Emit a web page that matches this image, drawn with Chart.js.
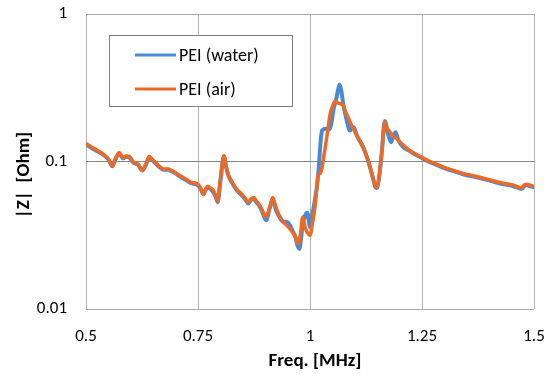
<!DOCTYPE html>
<html>
<head>
<meta charset="utf-8">
<script src="https://cdn.jsdelivr.net/npm/chart.js@4"></script>
<style>
  html, body { margin: 0; padding: 0; background: #fff; }
  #wrap { width: 557px; height: 374px; }
</style>
</head>
<body>
<div id="wrap"><canvas id="chartZ"></canvas></div>
<script>
// frequency [MHz] and |Z| [Ohm]
const freqAir = [0.500, 0.515, 0.531, 0.542, 0.550, 0.559, 0.566, 0.574, 0.583, 0.590, 0.597, 0.606, 0.616, 0.626, 0.633, 0.641, 0.647, 0.654, 0.663, 0.673, 0.683, 0.691, 0.700, 0.710, 0.723, 0.736, 0.747, 0.755, 0.762, 0.767, 0.772, 0.778, 0.784, 0.790, 0.794, 0.800, 0.808, 0.813, 0.818, 0.827, 0.836, 0.848, 0.856, 0.862, 0.869, 0.875, 0.880, 0.885, 0.893, 0.902, 0.910, 0.917, 0.923, 0.930, 0.940, 0.948, 0.955, 0.961, 0.967, 0.974, 0.979, 0.984, 0.989, 0.994, 1.000, 1.006, 1.011, 1.015, 1.018, 1.024, 1.033, 1.040, 1.045, 1.051, 1.056, 1.062, 1.068, 1.074, 1.080, 1.085, 1.091, 1.097, 1.102, 1.108, 1.114, 1.119, 1.127, 1.134, 1.141, 1.146, 1.149, 1.154, 1.160, 1.167, 1.172, 1.179, 1.186, 1.193, 1.200, 1.210, 1.220, 1.232, 1.249, 1.262, 1.275, 1.297, 1.320, 1.342, 1.365, 1.395, 1.424, 1.454, 1.466, 1.472, 1.478, 1.484, 1.492, 1.500];
const zAir = [0.132, 0.124, 0.116, 0.110, 0.104, 0.093, 0.105, 0.115, 0.106, 0.109, 0.108, 0.099, 0.096, 0.087, 0.095, 0.108, 0.104, 0.099, 0.093, 0.089, 0.089, 0.087, 0.084, 0.080, 0.076, 0.072, 0.071, 0.067, 0.060, 0.065, 0.068, 0.066, 0.064, 0.058, 0.054, 0.075, 0.110, 0.092, 0.081, 0.072, 0.065, 0.060, 0.056, 0.053, 0.056, 0.057, 0.054, 0.052, 0.047, 0.042, 0.049, 0.057, 0.050, 0.044, 0.039, 0.037, 0.035, 0.033, 0.031, 0.0277, 0.033, 0.042, 0.036, 0.033, 0.0316, 0.039, 0.049, 0.065, 0.080, 0.084, 0.119, 0.165, 0.210, 0.240, 0.256, 0.250, 0.246, 0.240, 0.215, 0.200, 0.180, 0.167, 0.155, 0.144, 0.134, 0.125, 0.108, 0.092, 0.077, 0.068, 0.067, 0.078, 0.113, 0.185, 0.168, 0.158, 0.148, 0.144, 0.136, 0.128, 0.120, 0.114, 0.107, 0.102, 0.098, 0.092, 0.087, 0.083, 0.080, 0.076, 0.072, 0.069, 0.067, 0.066, 0.069, 0.070, 0.069, 0.068];

const freqWater = [0.500, 0.515, 0.531, 0.542, 0.550, 0.559, 0.566, 0.574, 0.583, 0.590, 0.597, 0.606, 0.616, 0.626, 0.633, 0.641, 0.647, 0.654, 0.663, 0.673, 0.683, 0.691, 0.700, 0.710, 0.723, 0.736, 0.747, 0.755, 0.762, 0.767, 0.772, 0.778, 0.784, 0.790, 0.794, 0.800, 0.808, 0.813, 0.818, 0.827, 0.836, 0.848, 0.856, 0.862, 0.869, 0.875, 0.880, 0.885, 0.893, 0.902, 0.910, 0.917, 0.923, 0.930, 0.940, 0.948, 0.955, 0.961, 0.967, 0.972, 0.976, 0.980, 0.984, 0.989, 0.994, 1.000, 1.006, 1.011, 1.016, 1.020, 1.024, 1.027, 1.035, 1.043, 1.048, 1.053, 1.058, 1.062, 1.066, 1.070, 1.074, 1.078, 1.082, 1.089, 1.094, 1.098, 1.103, 1.108, 1.114, 1.119, 1.127, 1.134, 1.141, 1.146, 1.149, 1.154, 1.160, 1.167, 1.174, 1.181, 1.186, 1.191, 1.197, 1.208, 1.220, 1.232, 1.249, 1.262, 1.275, 1.297, 1.320, 1.342, 1.365, 1.395, 1.424, 1.454, 1.466, 1.472, 1.478, 1.484, 1.492, 1.500];
const zWater = [0.131, 0.122, 0.115, 0.109, 0.103, 0.093, 0.104, 0.113, 0.105, 0.108, 0.106, 0.098, 0.095, 0.087, 0.094, 0.106, 0.103, 0.098, 0.092, 0.088, 0.088, 0.086, 0.083, 0.079, 0.075, 0.071, 0.070, 0.066, 0.060, 0.064, 0.067, 0.065, 0.062, 0.057, 0.053, 0.074, 0.108, 0.091, 0.080, 0.071, 0.064, 0.059, 0.055, 0.052, 0.055, 0.056, 0.053, 0.051, 0.046, 0.040, 0.048, 0.056, 0.048, 0.043, 0.039, 0.039, 0.037, 0.034, 0.031, 0.027, 0.0256, 0.030, 0.038, 0.043, 0.045, 0.036, 0.045, 0.055, 0.070, 0.095, 0.140, 0.162, 0.167, 0.165, 0.185, 0.230, 0.260, 0.300, 0.333, 0.300, 0.247, 0.215, 0.190, 0.162, 0.168, 0.170, 0.155, 0.143, 0.133, 0.124, 0.107, 0.091, 0.076, 0.067, 0.066, 0.077, 0.113, 0.188, 0.155, 0.135, 0.148, 0.158, 0.140, 0.125, 0.119, 0.113, 0.106, 0.101, 0.097, 0.091, 0.086, 0.082, 0.079, 0.075, 0.071, 0.068, 0.066, 0.065, 0.068, 0.069, 0.068, 0.067];

const seriesNames = ['PEI (water)', 'PEI (air)'];
const xTicks = [0.5, 0.75, 1, 1.25, 1.5];
const yTicks = [0.01, 0.1, 1];
const xTitle = 'Freq. [MHz]';
const yTitle = '|Z|  [Ohm]';

const toPoints = (xs, ys) => xs.map((x, i) => ({ x: x, y: ys[i] }));

const FONT = "Carlito, Lato, 'Liberation Sans', sans-serif";
const blue = '#4a89d3';
const orange = '#ec6a26';

// label overhang would shrink the plot, the layout padding handles it instead
const noPad = (scale) => {
   scale.paddingTop = 0;
   scale.paddingBottom = 0;
   scale.paddingLeft = 0;
   scale.paddingRight = 0;
};

// legend box inside the plot + axis titles placed like the Excel original
const boxLegend = {
   id: 'boxLegend',
   afterDatasetsDraw(chart) {
      const ctx = chart.ctx;
      const x0 = 109.5, y0 = 35.5, w = 183, h = 71;
      ctx.save();
      ctx.fillStyle = '#fff';
      ctx.fillRect(x0, y0, w, h);
      ctx.strokeStyle = '#808080';
      ctx.lineWidth = 1;
      ctx.strokeRect(x0, y0, w, h);
      const rows = [55, 89];
      chart.data.datasets.forEach((ds, i) => {
         ctx.strokeStyle = ds.borderColor;
         ctx.lineWidth = 3;
         ctx.beginPath();
         ctx.moveTo(135, rows[i]);
         ctx.lineTo(176, rows[i]);
         ctx.stroke();
         ctx.fillStyle = '#000';
         ctx.font = '18px ' + FONT;
         ctx.textAlign = 'left';
         ctx.textBaseline = 'middle';
         ctx.fillText(ds.label, 179, rows[i] + 1);
      });

      ctx.font = 'bold 19px ' + FONT;
      ctx.textAlign = 'center';
      ctx.textBaseline = 'middle';
      ctx.fillText(xTitle, 315, 361);
      ctx.translate(24, 175);
      ctx.rotate(-Math.PI / 2);
      ctx.fillText(yTitle, 0, 0);
      ctx.restore();
   }
};

const ctx = document.getElementById('chartZ').getContext('2d');
const chartZ = new Chart(ctx, {
   type: 'line',
   data: {
      datasets: [{
         label: seriesNames[0],
         data: toPoints(freqWater, zWater),
         borderColor: blue,
         borderWidth: 4,
         order: 1
      }, {
         label: seriesNames[1],
         data: toPoints(freqAir, zAir),
         borderColor: orange,
         borderWidth: 3.5,
         order: 0
      }]
   },
   options: {
      responsive: true,
      maintainAspectRatio: false,
      animation: false,
      elements: {
         point: { radius: 0 },
         line: { cubicInterpolationMode: 'monotone', borderCapStyle: 'round', borderJoinStyle: 'round' }
      },
      layout: {
         autoPadding: false,
         padding: { top: 14, right: 23, left: 0, bottom: 0 }
      },
      plugins: {
         legend: { display: false },
         tooltip: { enabled: false }
      },
      scales: {
         x: {
            type: 'linear',
            min: 0.5,
            max: 1.5,
            afterBuildTicks: (scale) => { scale.ticks = xTicks.map(v => ({ value: v })); },
            afterFit: (scale) => { scale.height = 65; noPad(scale); },
            grid: { color: '#b4b4b4', lineWidth: 1, drawTicks: false },
            border: { display: false },
            ticks: {
               padding: 18,
               color: '#000',
               font: { family: FONT, size: 17 },
               maxRotation: 0,
               callback: (v) => String(v)
            }
         },
         y: {
            type: 'logarithmic',
            min: 0.01,
            max: 1,
            afterBuildTicks: (scale) => { scale.ticks = yTicks.map(v => ({ value: v })); },
            afterFit: (scale) => { scale.width = 86; noPad(scale); },
            grid: {
               color: (c) => (c.tick && c.tick.value === 0.1 ? '#858585' : '#a8a8a8'),
               lineWidth: 1,
               drawTicks: false
            },
            border: { display: false },
            ticks: {
               padding: 19,
               color: '#000',
               font: { family: FONT, size: 17 },
               callback: (v) => String(v)
            }
         }
      }
   },
   plugins: [boxLegend]
});
</script>
</body>
</html>
